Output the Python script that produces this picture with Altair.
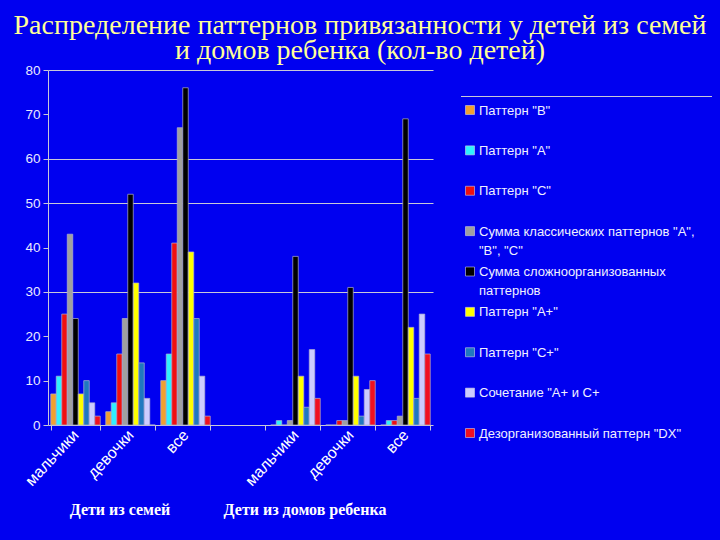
import json
import altair as alt
import pandas as pd

# ---------------- data ----------------
categories = ["мальчики", "девочки", "все", "", "мальчики", "девочки", "все"]
series = [
    'Паттерн "В"',
    'Паттерн "А"',
    'Паттерн "С"',
    'Сумма классических паттернов "А", "В", "С"',
    'Сумма сложноорганизованных паттернов',
    'Паттерн "А+"',
    'Паттерн "С+"',
    'Сочетание "А+ и С+',
    'Дезорганизованный паттерн "DX"',
]
legend_labels = [
    'Паттерн "В"',
    'Паттерн "А"',
    'Паттерн "С"',
    'Сумма классических паттернов "А",|"В", "С"',
    'Сумма сложноорганизованных|паттернов',
    'Паттерн "А+"',
    'Паттерн "С+"',
    'Сочетание "А+ и С+',
    'Дезорганизованный паттерн "DX"',
]
colors = ["#F0A030", "#30F0FF", "#F01010", "#A0A0A0", "#000000",
          "#FFFF00", "#2078C0", "#CCCCFF", "#F01020"]

val_B = [7, 3, 10, 0, 0, 0, 0]
val_A = [11, 5, 16, 0, 1, 0, 1]
val_C = [25, 16, 41, 0, 0, 1, 1]
val_classic = [43, 24, 67, 0, 1, 1, 2]
val_complex = [24, 52, 76, 0, 38, 31, 69]
val_Aplus = [7, 32, 39, 0, 11, 11, 22]
val_Cplus = [10, 14, 24, 0, 4, 2, 6]
val_AC = [5, 6, 11, 0, 17, 8, 25]
val_DX = [2, 0, 2, 0, 6, 10, 16]

y_ticks = [0, 10, 20, 30, 40, 50, 60, 70, 80]
visible_grid = [30, 50, 60, 80]

title_lines = ["Распределение паттернов привязанности у детей из семей",
               "и домов ребенка (кол-во детей)"]
group_label_1 = "Дети из семей"
group_label_2 = "Дети из домов ребенка"

all_vals = [val_B, val_A, val_C, val_classic, val_complex, val_Aplus, val_Cplus, val_AC, val_DX]
rows = []
for s, vals in zip(series, all_vals):
    for i, v in enumerate(vals):
        if categories[i] == "":
            continue
        rows.append({"pos": i, "series": s, "value": v})
df = pd.DataFrame(rows)
legend_df = pd.DataFrame({"series": series, "label": legend_labels})

BG = "#0000F0"
W, H = 385, 355

label_expr = f"{json.dumps(categories, ensure_ascii=False)}[datum.value]"
grid_test = f"indexof({json.dumps(visible_grid)}, datum.value) >= 0"

color_enc = alt.Color("series:N", sort=series,
                      scale=alt.Scale(domain=series, range=colors), legend=None)

bars = alt.Chart(df).mark_bar(stroke="#B0B0D0", strokeWidth=0.7).encode(
    x=alt.X("pos:O",
            scale=alt.Scale(domain=list(range(len(categories))), paddingInner=0.1, paddingOuter=0.05),
            axis=alt.Axis(title=None, labelExpr=label_expr, labelAngle=-47,
                          labelFont="Liberation Sans", labelFontSize=16, labelColor="#FFFFFF",
                          labelPadding=2, tickBand="extent", tickSize=5,
                          tickColor="#C8C8D8", domainColor="#C8C8D8", grid=False)),
    xOffset=alt.XOffset("series:N", sort=series,
                        scale=alt.Scale(domain=series, paddingInner=0, paddingOuter=0)),
    y=alt.Y("value:Q",
            scale=alt.Scale(domain=[0, 80], nice=False),
            axis=alt.Axis(title=None, values=y_ticks, grid=True, gridColor="#C8C8D8",
                          gridOpacity={"condition": {"test": grid_test, "value": 1}, "value": 0},
                          labelFont="Liberation Sans", labelFontSize=13.5, labelColor="#E8E8FF",
                          tickSize=5, labelPadding=3, tickColor="#C8C8D8",
                          domainColor="#C8C8D8")),
    color=color_enc,
)

legend_y = alt.Y("series:N", sort=series,
                 scale=alt.Scale(type="point", domain=series, range=[40, 363], padding=0),
                 axis=None)

legend_sq = alt.Chart(legend_df).mark_square(size=81, opacity=1, stroke="#D0D0E0",
                                             strokeWidth=0.6).encode(
    x=alt.value(422), y=legend_y, color=color_enc
)
legend_txt = alt.Chart(legend_df).mark_text(
    align="left", baseline="alphabetic", dy=4.5, lineBreak="|", lineHeight=19,
    font="Liberation Sans", fontSize=13, color="#F0F0FF"
).encode(x=alt.value(431), y=legend_y, text="label:N")

legend_line = alt.Chart(pd.DataFrame({"a": [0]})).mark_rule(color="#C8C8D8", strokeWidth=1).encode(
    x=alt.value(413), x2=alt.value(664), y=alt.value(26.5)
)

g1 = alt.Chart(pd.DataFrame({"t": [group_label_1]})).mark_text(
    font="Liberation Serif", fontSize=16, fontWeight="bold", color="#FFFFFF",
    align="center", baseline="alphabetic"
).encode(text="t:N", x=alt.value(72), y=alt.value(445))

g2 = alt.Chart(pd.DataFrame({"t": [group_label_2]})).mark_text(
    font="Liberation Serif", fontSize=16, fontWeight="bold", color="#FFFFFF",
    align="center", baseline="alphabetic"
).encode(text="t:N", x=alt.value(257), y=alt.value(445))

chart = alt.layer(bars, legend_sq, legend_txt, legend_line, g1, g2).resolve_scale(
    y="independent"
).properties(
    width=W, height=H,
    title=alt.TitleParams(text=title_lines, font="Liberation Serif", fontSize=28,
                          fontWeight="normal", color="#FFFF99", anchor="middle",
                          dx=119.5, lineHeight=25, offset=-2),
    autosize=alt.AutoSizeParams(type="none"),
    padding={"left": 48, "top": 70, "right": 287, "bottom": 115},
    background=BG,
).configure_view(stroke=None)

chart.save("out.html", embed_options={"renderer": "svg", "actions": False})
